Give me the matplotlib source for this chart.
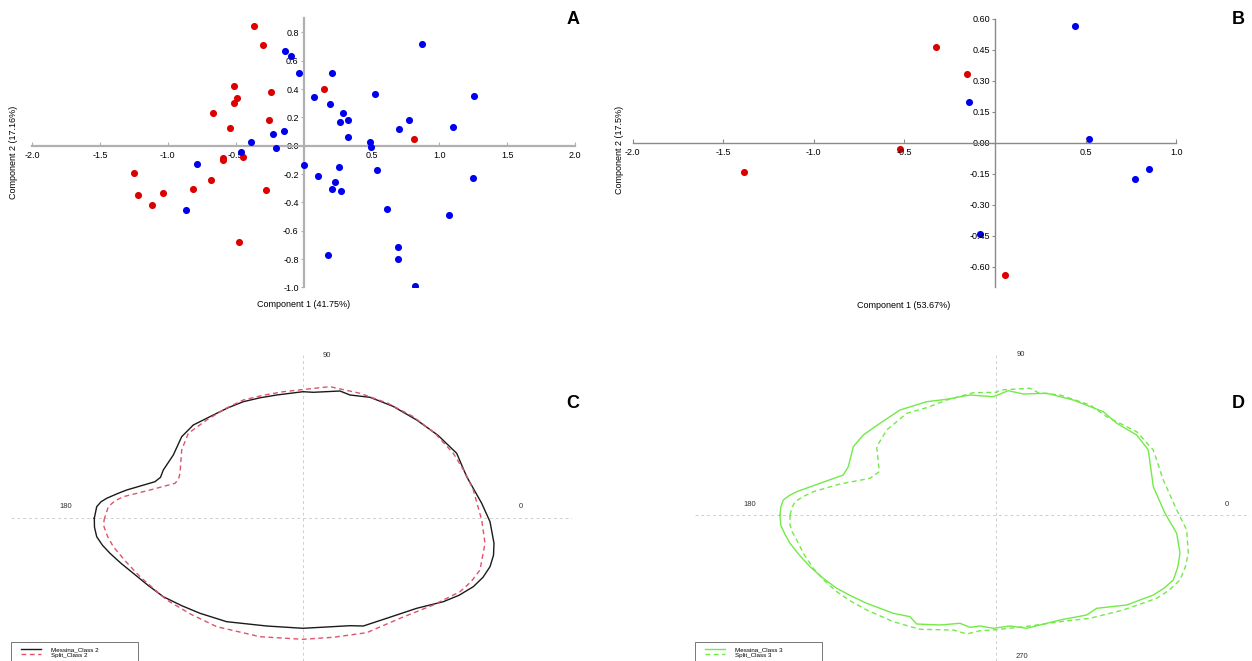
import matplotlib
matplotlib.use("Agg")
import matplotlib.pyplot as plt
from matplotlib.patches import Rectangle
from matplotlib.ticker import FixedLocator, FixedFormatter

plt.rcParams['font.family'] = ['Liberation Sans', 'DejaVu Sans']

# ---- Panel A: PCA scores (component 1 vs 2)
a_red_x = [-0.365, -0.296, -0.512, -0.492, -0.510, -0.239, -0.669, -0.257, -0.541,
           -0.595, -0.595, -0.443, -1.249, -1.217, -1.114, -1.033, -0.816, -0.681,
           -0.276, -0.475, 0.153, 0.816]
a_red_y = [0.845, 0.713, 0.421, 0.337, 0.299, 0.377, 0.229, 0.181, 0.127,
           -0.087, -0.099, -0.080, -0.190, -0.350, -0.421, -0.334, -0.303, -0.240,
           -0.315, -0.677, 0.402, 0.045]
a_blue_x = [-0.134, -0.094, -0.033, 0.080, -0.146, -0.225, -0.205, -0.389, -0.460,
            -0.785, -0.866, 0.006, 0.109, 0.208, 0.873, 0.529, 1.254, 0.193, 0.289,
            0.330, 0.267, 0.777, 0.701, 1.104, 0.328, 0.490, 0.500, 0.262, 0.539,
            1.249, 0.235, 0.212, 0.274, 0.613, 1.072, 0.696, 0.696, 0.178, 0.821]
a_blue_y = [0.666, 0.633, 0.513, 0.346, 0.104, 0.083, -0.014, 0.024, -0.047,
            -0.127, -0.454, -0.136, -0.212, 0.515, 0.716, 0.367, 0.348, 0.294, 0.229,
            0.184, 0.167, 0.184, 0.120, 0.130, 0.064, 0.026, -0.007, -0.153, -0.171,
            -0.230, -0.256, -0.303, -0.317, -0.444, -0.489, -0.717, -0.797, -0.771, -0.990]

# ---- Panel B
b_red_x = [-0.326, -0.155, -1.385, -0.524, 0.053]
b_red_y = [0.463, 0.331, -0.142, -0.032, -0.639]
b_blue_x = [0.443, -0.145, 0.517, 0.771, 0.848, -0.083]
b_blue_y = [0.563, 0.195, 0.016, -0.176, -0.129, -0.442]

# ---- Panel C: mean outlines (x, y in outline units around centroid)
c_mes_x = [-208.7, -206.3, -202, -196.3, -186, -176.3, -148, -142.5, -139.7, -129.7, -121.3,
           -109.7, -89.7, -75, -59.7, -43, -26.3, 0, 10.3, 37, 47, 67, 90, 113.7, 135, 153.7,
           163.7, 178.7, 187, 191, 190.5, 187, 180, 170.3, 156, 140.3, 113.7, 83.7, 60.3, 47,
           0, -36.3, -76.3, -103, -121, -139.7, -155, -169.7, -182, -193, -200.5, -206.3,
           -208.5, -208.7]
c_mes_y = [0, 11.6, 16.5, 20, 24.5, 28.3, 36.6, 41, 48.3, 63.3, 81.6,
           93.3, 103.3, 110.5, 116.6, 120.5, 123.3, 126.6, 126, 127.3, 123.3, 121, 112, 98.3, 83, 65,
           41.6, 15, -3.4, -25, -37, -48.4, -59, -68.4, -77, -83.4, -90, -100, -107.7, -107.4,
           -110, -107.7, -103.4, -95, -87.5, -78.4, -67, -55, -45, -35, -27, -18.4,
           -9, 0]
c_spl_x = [-199, -194.7, -188, -179.7, -153, -128, -124.5, -123, -121.3, -114.7, -96.3, -78,
           -59.7, -40, -19.7, 17, 27, 57, 85, 110.3, 132, 150.3, 162, 170.3, 178.7, 182, 177,
           168, 157, 130.3, 97, 63.7, 30.3, 0, -43, -86.3, -112, -136.3, -163, -177, -189.7,
           -195.5, -199, -199]
c_spl_y = [-1.7, 11.6, 17.5, 21.6, 28.3, 35, 39, 45, 68.3, 85, 98.3, 109.5,
           118.3, 123, 126.6, 130.6, 131.6, 125, 115, 101.6, 85, 65, 46, 28.3, -1.7, -25, -51.7,
           -63.5, -73.4, -86.7, -100, -114.4, -119, -121, -118.4, -108.4, -96, -81.7, -58.4, -43.5, -28.4,
           -18, -8.4, -1.7]

# ---- Panel D
d_mes_x = [-216.3, -215.5, -213, -207, -199.6, -176.3, -153, -148, -143, -133, -116.3, -96.3,
           -69.6, -49.6, -26.3, -3, 12, 27, 50.4, 77, 107, 120.4, 140.4, 152, 157, 168.7, 180.4,
           183.7, 181.5, 177, 168, 157, 130.4, 100.4, 90.4, 63.7, 30.4, 13.7, -3, -16.3, -26.3,
           -36.3, -56.3, -79.6, -86.3, -103, -129.6, -145, -159.6, -173.5, -186.3, -197, -206.3,
           -211.5, -215.6, -216.3]
d_mes_y = [0, 8, 15, 19.5, 23.3, 31.7, 40, 48.3, 68.3, 80, 91.7, 105,
           113.3, 115.7, 120, 118.3, 124.3, 121, 121.7, 115, 103.3, 91.7, 80, 65, 28.3, 1.7, -18.3,
           -38.3, -52, -65, -73, -80, -90, -93.3, -100, -105, -113.3, -111, -113.3, -111, -112.3,
           -108.3, -110, -109, -101.7, -98.3, -88.3, -81, -73.3, -63, -51.7, -40, -28.3,
           -19, -10, 0]
d_spl_x = [-206.3, -204.5, -201.3, -193, -183, -156.3, -126.3, -117, -118, -119.6, -109.6,
           -89.6, -69.6, -49.6, -23, 0.4, 3.7, 33.7, 42, 63.7, 93.7, 110.4, 140.4, 157, 167,
           180.4, 190.4, 192, 189, 183.7, 173, 160.4, 127, 93.7, 63.7, 33.7, -3, -16.3, -29.6,
           -43, -76.3, -103, -129.6, -145, -159.6, -172, -183, -192.5, -199.6, -204, -206.3, -206.3]
d_spl_y = [0, 7, 13.3, 18.5, 23.3, 31, 36.7, 43.3, 53.3, 68.3, 85,
           101.7, 107.3, 115, 122.3, 122.7, 125, 126.7, 122.3, 120, 110, 98.3, 83.3, 65, 35,
           5, -15, -38.3, -52, -65, -75, -83.3, -95, -103.3, -106.7, -111, -115, -115.7, -119,
           -115, -114.3, -106.7, -95, -86.5, -76.7, -65.5, -53.3, -39, -25, -17, -10, 0]

x_ticks_a = [-2.0, -1.5, -1.0, -0.5, 0.5, 1.0, 1.5, 2.0]
y_ticks_a = [0.8, 0.6, 0.4, 0.2, 0.0, -0.2, -0.4, -0.6, -0.8, -1.0]
x_ticks_b = [-2.0, -1.5, -1.0, -0.5, 0.5, 1.0]
y_ticks_b = [0.60, 0.45, 0.30, 0.15, 0.00, -0.15, -0.30, -0.45, -0.60]

RED = '#dd0000'
BLUE = '#0000ee'
PINK = '#DF536B'
GREEN = '#72ea48'

W, H = 1252, 661
fig = plt.figure(figsize=(W / 100, H / 100), dpi=100)


def px_axes(x0, y0, x1, y1):
    # pixel box (top-left origin) -> figure axes
    return fig.add_axes([x0 / W, 1 - y1 / H, (x1 - x0) / W, (y1 - y0) / H])


def pca_panel(ax, xlim, ylim, xt, yt, yfmt, spine_col, spine_lw):
    ax.set_xlim(*xlim)
    ax.set_ylim(*ylim)
    for s in ['top', 'right']:
        ax.spines[s].set_visible(False)
    for s in ['left', 'bottom']:
        ax.spines[s].set_position('zero')
        ax.spines[s].set_color(spine_col)
        ax.spines[s].set_linewidth(spine_lw)
    ax.xaxis.set_major_locator(FixedLocator(xt))
    ax.xaxis.set_major_formatter(FixedFormatter([f'{v:.1f}' for v in xt]))
    ax.yaxis.set_major_locator(FixedLocator(yt))
    ax.yaxis.set_major_formatter(FixedFormatter([yfmt.format(v) for v in yt]))
    ax.tick_params(axis='x', direction='in', length=3, width=0.8, color=spine_col,
                   labelsize=6.5, pad=4)
    ax.tick_params(axis='y', direction='out', length=2, width=0.8, color=spine_col,
                   labelsize=6.5, pad=1.5)
    ax.patch.set_alpha(0)


# Panel A
axA = px_axes(32, 18.2, 575, 287.4)
pca_panel(axA, (-2, 2), (-1.0, 0.9), x_ticks_a, y_ticks_a, '{:.1f}', '#b0b0b0', 1.6)
axA.scatter(a_red_x, a_red_y, s=26, color=RED, zorder=3, linewidths=0)
axA.scatter(a_blue_x, a_blue_y, s=26, color=BLUE, zorder=3, linewidths=0)
fig.text(304 / W, 1 - 304 / H, 'Component 1 (41.75%)', ha='center', va='center', fontsize=6.5)
fig.text(14 / W, 1 - 152 / H, 'Component 2 (17.16%)', ha='center', va='center',
         rotation=90, fontsize=6.5)
fig.text(573 / W, 1 - 19 / H, 'A', ha='center', va='center', fontsize=13, fontweight='bold')

# Panel B
axB = px_axes(632.6, 18.7, 1176.2, 287.4)
pca_panel(axB, (-2, 1), (-0.70, 0.60), x_ticks_b, y_ticks_b, '{:.2f}', '#8a8a8a', 1.0)
axB.scatter(b_red_x, b_red_y, s=26, color=RED, zorder=1, linewidths=0)
axB.scatter(b_blue_x, b_blue_y, s=26, color=BLUE, zorder=1, linewidths=0)
fig.text(904 / W, 1 - 305 / H, 'Component 1 (53.67%)', ha='center', va='center', fontsize=6.5)
fig.text(620 / W, 1 - 150 / H, 'Component 2 (17.5%)', ha='center', va='center',
         rotation=90, fontsize=6.5)
fig.text(1238 / W, 1 - 19 / H, 'B', ha='center', va='center', fontsize=13, fontweight='bold')


def outline_panel(ax, xlim, ylim, vtop, mes, spl, col_m, col_s, labels, angle_pos, leg_x):
    ax.set_xlim(*xlim)
    ax.set_ylim(*ylim)
    ax.axis('off')
    ax.axhline(0, color='#cfcfcf', lw=0.7, ls=(0, (3, 3)), zorder=0)
    frac = (vtop - ylim[0]) / (ylim[1] - ylim[0])
    ax.axvline(0, ymin=0, ymax=frac, color='#cfcfcf', lw=0.7, ls=(0, (3, 3)), zorder=0)
    ax.plot(mes[0], mes[1], color=col_m, lw=1.0, label=labels[0], solid_joinstyle='round')
    ax.plot(spl[0], spl[1], color=col_s, lw=1.0, ls=(0, (3.5, 2.5)), label=labels[1])
    for txt, (tx, ty) in angle_pos.items():
        ax.text(tx, ty, txt, ha='center', va='center', fontsize=5.5, color='#333333',
                clip_on=False)
    # legend frame runs off the bottom edge of the figure, as in the source
    fig.patches.append(Rectangle((leg_x / W, 1 - 672 / H), 127 / W, (672 - 641.7) / H,
                                 transform=fig.transFigure, fill=False,
                                 edgecolor='#777777', lw=0.7))
    ax.legend(loc='upper left', bbox_to_anchor=((leg_x + 7.8) / W, 1 - 644.3 / H),
              bbox_transform=fig.transFigure, fontsize=4.5, frameon=False,
              handlelength=3.2, handletextpad=1.55, labelspacing=0.05,
              borderpad=0.35, borderaxespad=0)


# Panel C
axC = px_axes(11, 345, 572, 661)
outline_panel(axC, (-292, 269), (-142.7, 173.3), 163.3, (c_mes_x, c_mes_y), (c_spl_x, c_spl_y),
              '#1a1a1a', PINK, ['Messina_Class 2', 'Split_Class 2'],
              {'90': (24, 163), '180': (-237, 12), '0': (218, 12)}, 11)
fig.text(573 / W, 1 - 403 / H, 'C', ha='center', va='center', fontsize=13, fontweight='bold')

# Panel D
axD = px_axes(695, 345, 1250, 661)
outline_panel(axD, (-301.3, 253.7), (-146, 170), 160, (d_mes_x, d_mes_y), (d_spl_x, d_spl_y),
              GREEN, GREEN, ['Messina_Class 3', 'Split_Class 3'],
              {'90': (25, 160), '180': (-247, 10), '0': (231, 10), '270': (26, -142)}, 695)
fig.text(1238 / W, 1 - 403 / H, 'D', ha='center', va='center', fontsize=13, fontweight='bold')

fig.savefig('out.png', dpi=100)
